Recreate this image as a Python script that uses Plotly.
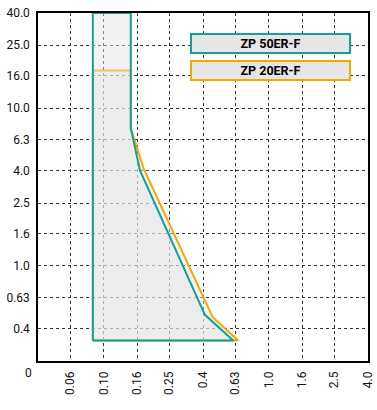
import math
import plotly.graph_objects as go

# log-grid ticks (Renard series), labels as printed on the chart
X_TICKS = [0.04, 0.063, 0.10, 0.16, 0.25, 0.40, 0.63, 1.0, 1.6, 2.5, 4.0]
X_LABELS = ["", "0.06", "0.10", "0.16", "0.25", "0.4", "0.63", "1.0", "1.6", "2.5", "4.0"]
Y_TICKS = [0.25, 0.4, 0.63, 1.0, 1.6, 2.5, 4.0, 6.3, 10.0, 16.0, 25.0, 40.0]
Y_LABELS = ["", "0.4", "0.63", "1.0", "1.6", "2.5", "4.0", "6.3", "10.0", "16.0", "25.0", "40.0"]

# envelope outlines
NAMES = ["ZP 50ER-F", "ZP 20ER-F"]
X_50 = [0.086, 0.086, 0.146, 0.146, 0.166, 0.411, 0.61, 0.086]
Y_50 = [0.337, 40.0, 40.0, 7.45, 4.03, 0.49, 0.337, 0.337]
X_20 = [0.086, 0.086, 0.146, 0.146, 0.174, 0.458, 0.654, 0.086]
Y_20 = [0.337, 17.3, 17.3, 7.45, 4.18, 0.474, 0.337, 0.337]

TEAL = "#14a098"
ORANGE = "#f5a800"
FONT = "Roboto, sans-serif"

fig = go.Figure()

# orange first so the teal envelope sits on top of it
for xs, ys, name, col in [(X_20, Y_20, NAMES[1], ORANGE), (X_50, Y_50, NAMES[0], TEAL)]:
    fig.add_trace(go.Scatter(
        x=xs, y=ys, mode="lines", name=name,
        line=dict(color=col, width=2),
        fill="toself", fillcolor="rgba(228,228,228,0.45)",
        showlegend=False, hoverinfo="skip",
    ))

axis_common = dict(
    type="log", automargin=False,
    showline=True, linecolor="black", linewidth=1.5, mirror=True,
    showgrid=True, gridcolor="#333333", griddash="dot", gridwidth=1,
    zeroline=False, ticks="",
    tickfont=dict(family=FONT, size=12, color="#111111"),
)

fig.update_xaxes(
    range=[math.log10(X_TICKS[0]), math.log10(X_TICKS[-1])],
    tickmode="array", tickvals=X_TICKS, ticktext=X_LABELS,
    tickangle=-90, ticklabelstandoff=4,
    **axis_common,
)
fig.update_yaxes(
    range=[math.log10(Y_TICKS[0]), math.log10(Y_TICKS[-1])],
    tickmode="array", tickvals=Y_TICKS, ticktext=Y_LABELS,
    ticklabelstandoff=4,
    **axis_common,
)

# origin label
fig.add_annotation(
    text="0", xref="paper", yref="paper", x=0, y=0,
    xanchor="right", yanchor="middle", xshift=-4, yshift=-12,
    showarrow=False, font=dict(family=FONT, size=12, color="#111111"),
)

# boxed legend entries
for name, col, ypos in [(NAMES[0], TEAL, 0.912), (NAMES[1], ORANGE, 0.835)]:
    fig.add_annotation(
        text="<b>" + name + "</b>", xref="paper", yref="paper",
        x=0.704, y=ypos, xanchor="center", yanchor="middle",
        showarrow=False, width=157, height=17,
        bgcolor="#e6e6e6", bordercolor=col, borderwidth=2, borderpad=0,
        font=dict(family=FONT, size=12.5, color="black"),
    )

fig.update_layout(
    width=377, height=410,
    margin=dict(l=38, r=9, t=13, b=49),
    plot_bgcolor="white", paper_bgcolor="white",
    showlegend=False,
)

# drop the default body margin so the figure sits at the page corner
fig.write_html("out.html", config={"displayModeBar": False},
               post_script="document.body.style.margin='0';")
